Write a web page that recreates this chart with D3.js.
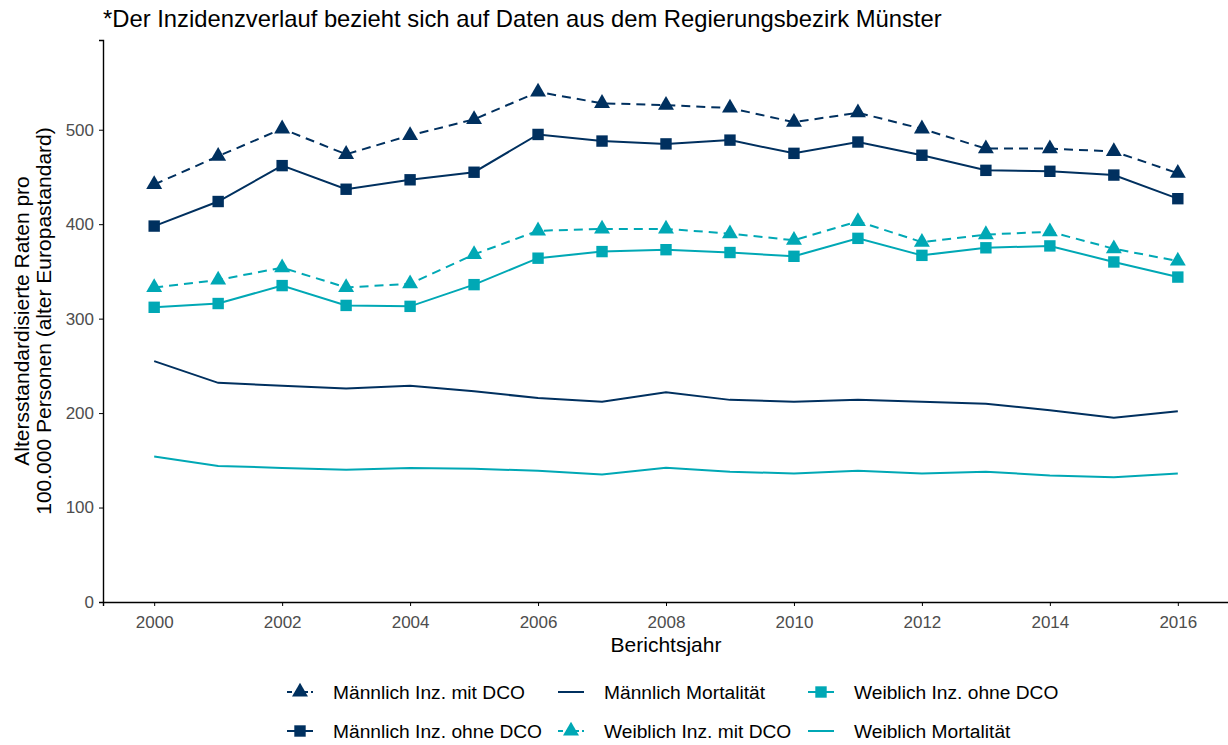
<!DOCTYPE html>
<html>
<head>
<meta charset="utf-8">
<title>Inzidenz und Mortalität</title>
<style>
body { margin: 0; background: #fff; }
text { font-family: "Liberation Sans", Arial, sans-serif; }
.tick text { fill: #4d4d4d; font-size: 17px; }
.axis path, .axis line { stroke: #000; }
</style>
</head>
<body>
<script src="https://cdn.jsdelivr.net/npm/d3@7"></script>
<script>
// years on the x axis
var years = [2000, 2001, 2002, 2003, 2004, 2005, 2006, 2007, 2008,
             2009, 2010, 2011, 2012, 2013, 2014, 2015, 2016];

// series values (age-standardised rates per 100.000)
var maennlichMitDCO  = [442, 472, 501, 474, 494, 511, 540, 528, 526, 523, 508, 518, 501, 480, 480, 477, 454];
var maennlichOhneDCO = [398, 424, 462, 437, 447, 455, 495, 488, 485, 489, 475, 487, 473, 457, 456, 452, 427];
var maennlichMort    = [255, 232, 229, 226, 229, 223, 216, 212, 222, 214, 212, 214, 212, 210, 203, 195, 202];
var weiblichMitDCO   = [333, 341, 354, 333, 337, 368, 393, 395, 395, 390, 383, 403, 381, 389, 392, 374, 361];
var weiblichOhneDCO  = [312, 316, 335, 314, 313, 336, 364, 371, 373, 370, 366, 385, 367, 375, 377, 360, 344];
var weiblichMort     = [154, 144, 142, 140, 142, 141, 139, 135, 142, 138, 136, 139, 136, 138, 134, 132, 136];

var yTicks = [0, 100, 200, 300, 400, 500];
var xTicks = [2000, 2002, 2004, 2006, 2008, 2010, 2012, 2014, 2016];

var navy = "#00305f",
    teal = "#00a8b5";

var series = [
  {name: "Männlich Inz. mit DCO",  values: maennlichMitDCO,  color: navy, dash: true,  shape: "triangle"},
  {name: "Männlich Inz. ohne DCO", values: maennlichOhneDCO, color: navy, dash: false, shape: "square"},
  {name: "Männlich Mortalität",    values: maennlichMort,    color: navy, dash: false, shape: null},
  {name: "Weiblich Inz. mit DCO",  values: weiblichMitDCO,   color: teal, dash: true,  shape: "triangle"},
  {name: "Weiblich Inz. ohne DCO", values: weiblichOhneDCO,  color: teal, dash: false, shape: "square"},
  {name: "Weiblich Mortalität",    values: weiblichMort,     color: teal, dash: false, shape: null}
];

var width = 1228,
    height = 745;
var pLeft = 103, pRight = 1229, pTop = 40, pBottom = 602;

var svg = d3.select("body").append("svg")
    .attr("width", width)
    .attr("height", height);

var x = d3.scaleLinear().domain([1999.2, 2016.8]).range([pLeft, pRight]);
var y = d3.scaleLinear().domain([0, 595]).range([pBottom, pTop]);

// axes
svg.append("g")
    .attr("class", "axis")
    .attr("transform", "translate(0," + pBottom + ")")
    .call(d3.axisBottom(x).tickValues(xTicks).tickFormat(d3.format("d")).tickSizeOuter(0).tickSize(4).tickPadding(10))
    .call(function(g) { g.select(".domain").attr("stroke-width", 1.4); g.selectAll("line").attr("stroke", "#333"); });

svg.append("g")
    .attr("class", "axis")
    .attr("transform", "translate(" + pLeft + ",0)")
    .call(d3.axisLeft(y).tickValues(yTicks).tickSizeOuter(0).tickSize(4).tickPadding(5))
    .call(function(g) { g.select(".domain").attr("stroke-width", 1.4); g.selectAll("line").attr("stroke", "#333"); });

// title and axis labels
svg.append("text")
    .attr("x", pLeft)
    .attr("y", 27)
    .style("font-size", "23.8px")
    .text("*Der Inzidenzverlauf bezieht sich auf Daten aus dem Regierungsbezirk Münster");

svg.append("text")
    .attr("x", (pLeft + pRight) / 2)
    .attr("y", 652)
    .attr("text-anchor", "middle")
    .style("font-size", "21px")
    .text("Berichtsjahr");

var yl = svg.append("text")
    .attr("transform", "translate(29," + ((pTop + pBottom) / 2) + ") rotate(-90)")
    .attr("text-anchor", "middle")
    .style("font-size", "21px");
yl.append("tspan").attr("x", 0).attr("dy", 0).text("Altersstandardisierte Raten pro");
yl.append("tspan").attr("x", 0).attr("dy", 22).text("100.000 Personen (alter Europastandard)");

// lines
var line = d3.line()
    .x(function(d, i) { return x(years[i]); })
    .y(function(d) { return y(d); });

var symTri = d3.symbol().type(d3.symbolTriangle).size(110);
var symSq = d3.symbol().type(d3.symbolSquare).size(130);

series.forEach(function(s) {
  svg.append("path")
      .datum(s.values)
      .attr("fill", "none")
      .attr("stroke", s.color)
      .attr("stroke-width", 2)
      .attr("stroke-dasharray", s.dash ? "9,6" : null)
      .attr("d", line);

  if (s.shape) {
    svg.append("g").selectAll("path")
        .data(s.values)
        .enter().append("path")
        .attr("transform", function(d, i) { return "translate(" + x(years[i]) + "," + y(d) + ")"; })
        .attr("fill", s.color)
        .attr("d", s.shape == "triangle" ? symTri : symSq);
  }
});

// legend, filled column by column
var colX = [287, 558, 808],
    rowY = [692, 731];

var legend = svg.append("g").selectAll("g")
    .data(series)
    .enter().append("g")
    .attr("transform", function(d, i) {
      return "translate(" + colX[Math.floor(i / 2)] + "," + rowY[i % 2] + ")";
    });

legend.append("line")
    .attr("x1", 0).attr("x2", 26)
    .attr("stroke", function(d) { return d.color; })
    .attr("stroke-width", 2)
    .attr("stroke-dasharray", function(d) { return d.dash ? "5,3" : null; });

legend.filter(function(d) { return d.shape; }).append("path")
    .attr("transform", "translate(13,0)")
    .attr("fill", function(d) { return d.color; })
    .attr("d", function(d) { return d.shape == "triangle" ? symTri() : symSq(); });

legend.append("text")
    .attr("x", 46)
    .attr("dy", "0.35em")
    .style("font-size", "19.2px")
    .text(function(d) { return d.name; });
</script>
</body>
</html>
